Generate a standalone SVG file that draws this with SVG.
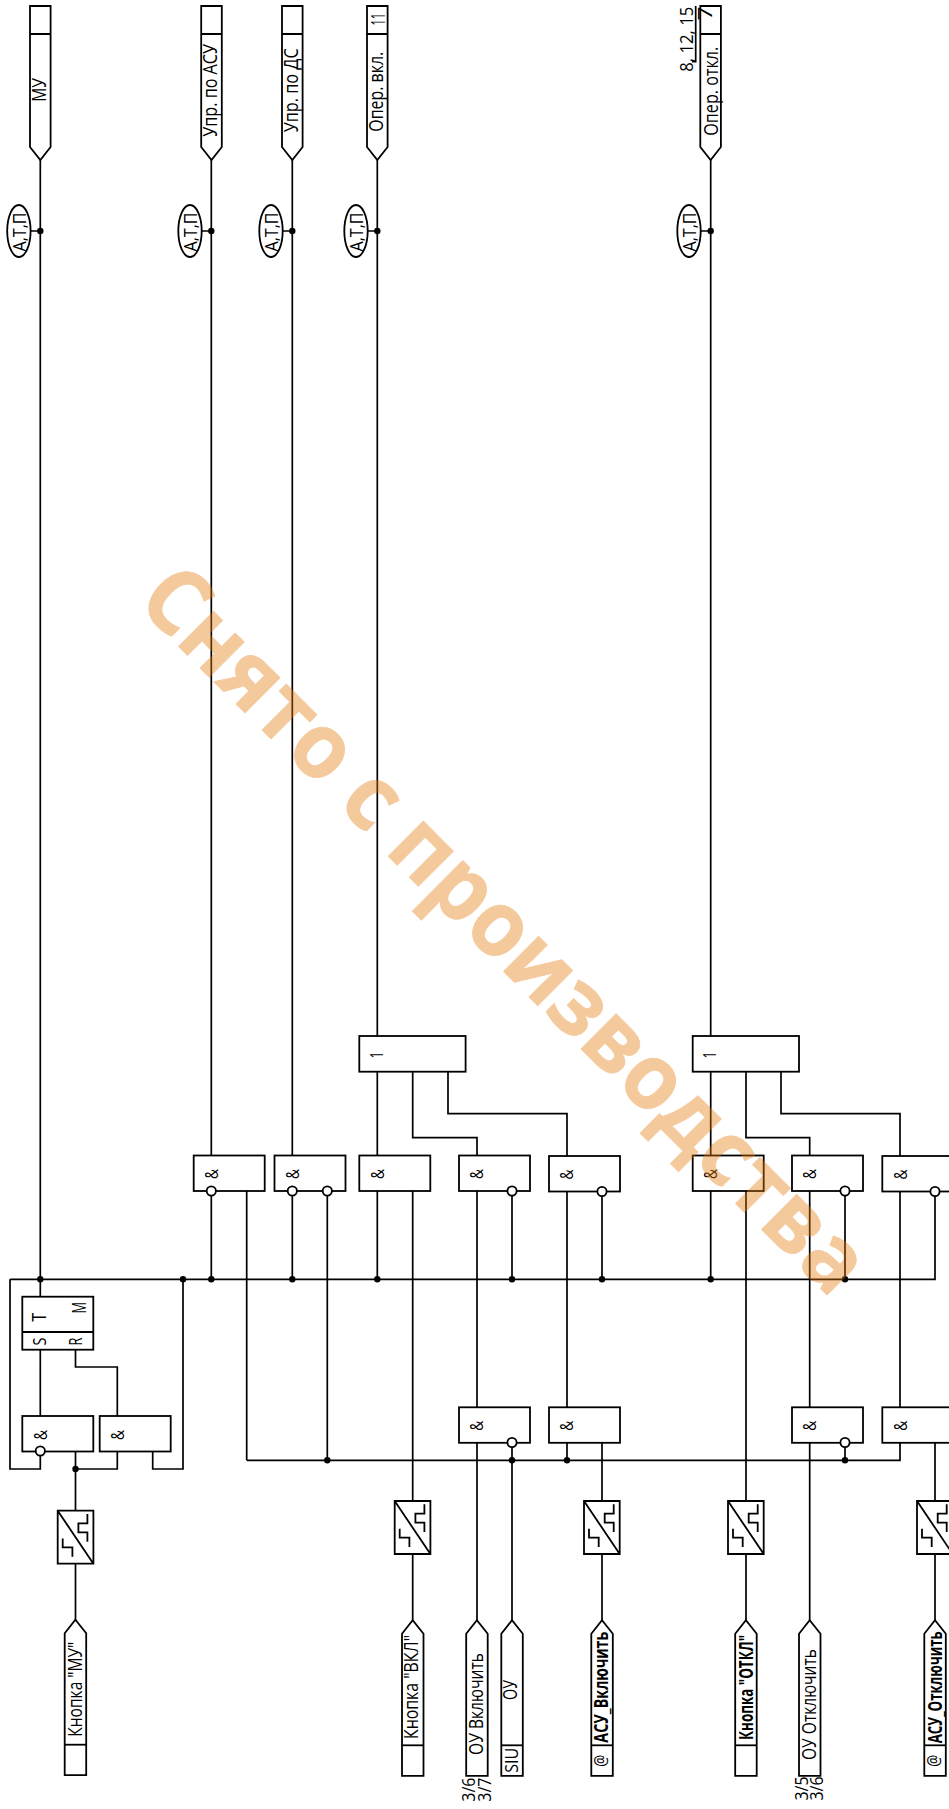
<svg xmlns="http://www.w3.org/2000/svg" width="949" height="1809" viewBox="0 0 949 1809">
<style>
.s{fill:#fff;stroke:#000;stroke-width:1.8}
.n{fill:none;stroke:#000;stroke-width:1.8}
.l{fill:none;stroke:#000;stroke-width:1.7}
.d{fill:#000;stroke:none}
.t{font-family:"Open Sans","Noto Sans",sans-serif;font-size:19.5px;fill:#000;stroke:none}
.b{font-weight:bold}
.a{font-size:18px}
.m{font-size:18px}
.w{font-family:"Open Sans","Noto Sans",sans-serif;font-weight:bold;font-size:91px;fill:#e67a0a;stroke:#e67a0a;stroke-width:.8;stroke-linejoin:round;opacity:.4}
</style>
<defs>
<path id="top" d="M0 0H20.6V141L10.3 154L0 141Z M0 28H20.6" class="s" transform="translate(0,6)"/>
<path id="bot" d="M0 13.5L10.7 0L21.5 13.5V155.5H0Z" class="s"/>
<path id="conv" d="M0 0H35.7V53H0Z M0 0L35.7 53 M29.7 3.3V12.7H20.7V21.7H29.7V31 M5 27.7V36.7H14.7V46" class="s"/>
<rect id="and" width="71" height="35.5" class="s"/>
<rect id="or" width="106.3" height="35.7" class="s"/>
</defs>

<g id="connectors">
<path class="l" d="M10 1279.3H935V1191.5 M40.3 160V1297 M211.3 160V1155.5 M292.3 160V1155.5 M377.3 160V1036 M710.7 160V1036"/>
<path class="l" d="M211.3 1191V1279.3 M292.3 1191V1279.3 M327.3 1191V1460.3 M246.7 1191V1460.3 M246.7 1460.3H900V1442.5"/>
<path class="l" d="M30 231H40.3 M201.5 231H211.3 M282.7 231H292.3 M368 231H377.3 M701 231H710.7"/>
<path class="l" d="M10 1279.3V1469H40.3V1451 M40.3 1350V1416 M75.5 1350V1367H117.3V1416 M75.5 1451V1511 M75.5 1469H117.3V1451 M152.7 1451V1469H183V1279.3 M75.5 1564V1620"/>
<path class="l" d="M377.3 1071.7V1155.5 M412.7 1071.7V1137.7H477V1155.5 M448 1071.7V1113.7H567V1156 M377.3 1191V1279.3 M412.7 1191V1501 M412.7 1554V1620 M477 1191V1407.5 M477 1442V1620 M512 1191V1279.3 M512 1442V1620 M567 1191.5V1407.5 M567 1442V1460.3 M602 1191.5V1279.3 M602 1442V1501 M602 1554V1620"/>
<path class="l" d="M710.7 1071.7V1155.5 M746 1071.7V1137.7H809.7V1155.5 M781 1071.7V1113.7H900V1156 M710.7 1191V1279.3 M746 1191V1501 M746 1554V1620 M809.7 1191V1407.5 M809.7 1442V1620 M845 1191V1279.3 M845 1442V1460.3 M900 1191.5V1407.5 M935 1442V1501 M935 1554V1620"/>
<g class="d">
<circle cx="40.3" cy="231" r="3.2"/><circle cx="211.3" cy="231" r="3.2"/><circle cx="292.3" cy="231" r="3.2"/><circle cx="377.3" cy="231" r="3.2"/><circle cx="710.7" cy="231" r="3.2"/>
<circle cx="40.3" cy="1279.3" r="3.2"/><circle cx="183" cy="1279.3" r="3.2"/><circle cx="211.3" cy="1279.3" r="3.2"/><circle cx="292.3" cy="1279.3" r="3.2"/><circle cx="377.3" cy="1279.3" r="3.2"/><circle cx="512" cy="1279.3" r="3.2"/><circle cx="602" cy="1279.3" r="3.2"/><circle cx="710.7" cy="1279.3" r="3.2"/><circle cx="845" cy="1279.3" r="3.2"/>
<circle cx="75.5" cy="1469" r="3.2"/><circle cx="327.3" cy="1460.3" r="3.2"/><circle cx="512" cy="1460.3" r="3.2"/><circle cx="567" cy="1460.3" r="3.2"/><circle cx="845" cy="1460.3" r="3.2"/>
</g>
</g>

<g id="out-mu"><use href="#top" x="30"/><text class="t" transform="translate(46,101.7) rotate(-90)" textLength="23.7" lengthAdjust="spacingAndGlyphs">МУ</text></g>
<g id="out-asu"><use href="#top" x="201.2"/><text class="t" transform="translate(217,136.7) rotate(-90)" textLength="92.7" lengthAdjust="spacingAndGlyphs">Упр. по АСУ</text></g>
<g id="out-ds"><use href="#top" x="282"/><text class="t" transform="translate(298,132.3) rotate(-90)" textLength="84" lengthAdjust="spacingAndGlyphs">Упр. по ДС</text></g>
<g id="out-on"><use href="#top" x="367"/><text class="t" transform="translate(383.3,131.7) rotate(-90)" textLength="80" lengthAdjust="spacingAndGlyphs">Опер. вкл.</text><text class="t" transform="translate(385,25.5) rotate(-90)" textLength="12.5" lengthAdjust="spacingAndGlyphs">11</text></g>
<g id="out-off"><use href="#top" x="700.3"/><text class="t" transform="translate(718.3,135.7) rotate(-90)" textLength="89" lengthAdjust="spacingAndGlyphs">Опер. откл.</text><text class="t" transform="translate(711.5,20.5) rotate(-90)" textLength="14" lengthAdjust="spacingAndGlyphs">7</text><text class="t m" transform="translate(693.3,71.7) rotate(-90)" textLength="65" lengthAdjust="spacingAndGlyphs">8, 12, 15</text><path class="l" d="M692 61.7H695.7V6"/></g>

<g id="att-1"><ellipse cx="18.9" cy="231" rx="11.7" ry="26" class="s"/><text class="t a" transform="translate(26,251.5) rotate(-90)" textLength="39" lengthAdjust="spacingAndGlyphs">А,Т,П</text></g>
<g id="att-2"><ellipse cx="190" cy="231" rx="11.7" ry="26" class="s"/><text class="t a" transform="translate(197,251.5) rotate(-90)" textLength="39" lengthAdjust="spacingAndGlyphs">А,Т,П</text></g>
<g id="att-3"><ellipse cx="271" cy="231" rx="11.7" ry="26" class="s"/><text class="t a" transform="translate(278,251.5) rotate(-90)" textLength="39" lengthAdjust="spacingAndGlyphs">А,Т,П</text></g>
<g id="att-4"><ellipse cx="356" cy="231" rx="11.7" ry="26" class="s"/><text class="t a" transform="translate(363,251.5) rotate(-90)" textLength="39" lengthAdjust="spacingAndGlyphs">А,Т,П</text></g>
<g id="att-5"><ellipse cx="689" cy="231" rx="11.7" ry="26" class="s"/><text class="t a" transform="translate(696,251.5) rotate(-90)" textLength="39" lengthAdjust="spacingAndGlyphs">А,Т,П</text></g>

<g id="trigger"><rect x="22.3" y="1296.7" width="71" height="53" class="s"/><path class="n" d="M22.3 1332H93.3"/>
<text class="t" transform="translate(45.7,1321.7) rotate(-90)" textLength="9" lengthAdjust="spacingAndGlyphs">T</text>
<text class="t" transform="translate(86,1313.5) rotate(-90)" textLength="11.5" lengthAdjust="spacingAndGlyphs">M</text>
<text class="t m" transform="translate(45.7,1345.5) rotate(-90)" textLength="8" lengthAdjust="spacingAndGlyphs">S</text>
<text class="t m" transform="translate(81.5,1345.5) rotate(-90)" textLength="8" lengthAdjust="spacingAndGlyphs">R</text></g>

<g id="and-a"><use href="#and" x="22.3" y="1416"/><text class="t m" transform="translate(46.5,1440) rotate(-90)" textLength="10" lengthAdjust="spacingAndGlyphs">&amp;</text><circle cx="40.3" cy="1451" r="4.6" class="s"/></g>
<g id="and-b"><use href="#and" x="99.7" y="1416"/><text class="t m" transform="translate(123.9,1440) rotate(-90)" textLength="10" lengthAdjust="spacingAndGlyphs">&amp;</text></g>
<g id="conv-mu"><use href="#conv" x="57.7" y="1510.7"/></g>
<g id="in-mu"><use href="#bot" x="64.7" y="1619.7"/><path class="n" d="M64.7 1744.7H86.2"/><text class="t" transform="translate(81.7,1736.7) rotate(-90)" textLength="95" lengthAdjust="spacingAndGlyphs">Кнопка "МУ"</text></g>

<g id="and-asu"><use href="#and" x="193.7" y="1155.5"/><text class="t m" transform="translate(217.9,1179) rotate(-90)" textLength="10" lengthAdjust="spacingAndGlyphs">&amp;</text><circle cx="211.3" cy="1191" r="4.6" class="s"/></g>
<g id="and-ds"><use href="#and" x="274.5" y="1155.5"/><text class="t m" transform="translate(298.7,1179) rotate(-90)" textLength="10" lengthAdjust="spacingAndGlyphs">&amp;</text><circle cx="292.3" cy="1191" r="4.6" class="s"/><circle cx="327.3" cy="1191" r="4.6" class="s"/></g>

<g id="or-on"><use href="#or" x="359.3" y="1036"/><text class="t m" transform="translate(382.7,1058.3) rotate(-90)" textLength="6.5" lengthAdjust="spacingAndGlyphs">1</text></g>
<g id="and-on1"><use href="#and" x="359.3" y="1155.5"/><text class="t m" transform="translate(383.5,1179) rotate(-90)" textLength="10" lengthAdjust="spacingAndGlyphs">&amp;</text></g>
<g id="and-on2"><use href="#and" x="459" y="1155.5"/><text class="t m" transform="translate(483.2,1179) rotate(-90)" textLength="10" lengthAdjust="spacingAndGlyphs">&amp;</text><circle cx="512" cy="1191" r="4.6" class="s"/></g>
<g id="and-on3"><use href="#and" x="549" y="1156"/><text class="t m" transform="translate(573.2,1179.5) rotate(-90)" textLength="10" lengthAdjust="spacingAndGlyphs">&amp;</text><circle cx="602" cy="1191.5" r="4.6" class="s"/></g>
<g id="and-on4"><use href="#and" x="459" y="1407.3"/><text class="t m" transform="translate(483.2,1430.8) rotate(-90)" textLength="10" lengthAdjust="spacingAndGlyphs">&amp;</text><circle cx="512" cy="1442.5" r="4.6" class="s"/></g>
<g id="and-on5"><use href="#and" x="549" y="1407.3"/><text class="t m" transform="translate(573.2,1430.8) rotate(-90)" textLength="10" lengthAdjust="spacingAndGlyphs">&amp;</text></g>

<g id="or-off"><use href="#or" x="692.7" y="1036"/><text class="t m" transform="translate(716,1058.3) rotate(-90)" textLength="6.5" lengthAdjust="spacingAndGlyphs">1</text></g>
<g id="and-off1"><use href="#and" x="692.7" y="1155.5"/><text class="t m" transform="translate(716.9,1179) rotate(-90)" textLength="10" lengthAdjust="spacingAndGlyphs">&amp;</text></g>
<g id="and-off2"><use href="#and" x="792" y="1155.5"/><text class="t m" transform="translate(816.2,1179) rotate(-90)" textLength="10" lengthAdjust="spacingAndGlyphs">&amp;</text><circle cx="845" cy="1191" r="4.6" class="s"/></g>
<g id="and-off3"><use href="#and" x="882.3" y="1156"/><text class="t m" transform="translate(906.5,1179.5) rotate(-90)" textLength="10" lengthAdjust="spacingAndGlyphs">&amp;</text><circle cx="935" cy="1191.5" r="4.6" class="s"/></g>
<g id="and-off4"><use href="#and" x="792" y="1407.3"/><text class="t m" transform="translate(816.2,1430.8) rotate(-90)" textLength="10" lengthAdjust="spacingAndGlyphs">&amp;</text><circle cx="845" cy="1442.5" r="4.6" class="s"/></g>
<g id="and-off5"><use href="#and" x="882.3" y="1407.3"/><text class="t m" transform="translate(906.5,1430.8) rotate(-90)" textLength="10" lengthAdjust="spacingAndGlyphs">&amp;</text></g>

<g id="conv-von"><use href="#conv" x="394.7" y="1501"/></g>
<g id="conv-asuon"><use href="#conv" x="584" y="1501"/></g>
<g id="conv-off"><use href="#conv" x="728" y="1501"/></g>
<g id="conv-asuoff"><use href="#conv" x="917" y="1501"/></g>

<g id="in-von"><use href="#bot" x="402" y="1620.3"/><path class="n" d="M402 1745.3H423.5"/><text class="t" transform="translate(418.3,1739) rotate(-90)" textLength="104" lengthAdjust="spacingAndGlyphs">Кнопка "ВКЛ"</text></g>
<g id="in-ouon"><use href="#bot" x="466.2" y="1620.3"/><text class="t" transform="translate(482.7,1755) rotate(-90)" textLength="102" lengthAdjust="spacingAndGlyphs">ОУ Включить</text><text class="t m" transform="translate(475,1801.7) rotate(-90)" textLength="24" lengthAdjust="spacingAndGlyphs">3/6</text><text class="t m" transform="translate(490.7,1801.7) rotate(-90)" textLength="24" lengthAdjust="spacingAndGlyphs">3/7</text></g>
<g id="in-ou"><use href="#bot" x="501.3" y="1620.3"/><path class="n" d="M501.3 1745.3H522.8"/><text class="t" transform="translate(517.3,1700) rotate(-90)" textLength="20" lengthAdjust="spacingAndGlyphs">ОУ</text><text class="t m" transform="translate(518.3,1772.7) rotate(-90)" textLength="25" lengthAdjust="spacingAndGlyphs">SIU</text></g>
<g id="in-asuon"><use href="#bot" x="591.3" y="1620.3"/><path class="n" d="M591.3 1745.3H612.8"/><text class="t b" transform="translate(608,1742.7) rotate(-90)" textLength="111" lengthAdjust="spacingAndGlyphs">АСУ_Включить</text><text class="t m" transform="translate(606.5,1766.7) rotate(-90)" textLength="12" lengthAdjust="spacingAndGlyphs">@</text></g>
<g id="in-off"><use href="#bot" x="735.2" y="1620.3"/><path class="n" d="M735.2 1745.3H756.7"/><text class="t b" transform="translate(752.7,1740) rotate(-90)" textLength="105" lengthAdjust="spacingAndGlyphs">Кнопка "ОТКЛ"</text></g>
<g id="in-ouoff"><use href="#bot" x="799" y="1620.3"/><text class="t" transform="translate(815.7,1760) rotate(-90)" textLength="111" lengthAdjust="spacingAndGlyphs">ОУ Отключить</text><text class="t m" transform="translate(808,1800.5) rotate(-90)" textLength="24" lengthAdjust="spacingAndGlyphs">3/5</text><text class="t m" transform="translate(823.3,1800.5) rotate(-90)" textLength="24" lengthAdjust="spacingAndGlyphs">3/6</text></g>
<g id="in-asuoff"><use href="#bot" x="924.3" y="1620.3"/><path class="n" d="M924.3 1745.3H945.8"/><text class="t b" transform="translate(942.3,1743.3) rotate(-90)" textLength="112" lengthAdjust="spacingAndGlyphs">АСУ_Отключить</text><text class="t m" transform="translate(940,1766.7) rotate(-90)" textLength="12" lengthAdjust="spacingAndGlyphs">@</text></g>

<text class="w" transform="translate(135,603) rotate(45)" textLength="985" lengthAdjust="spacingAndGlyphs">Снято с производства</text>
</svg>
